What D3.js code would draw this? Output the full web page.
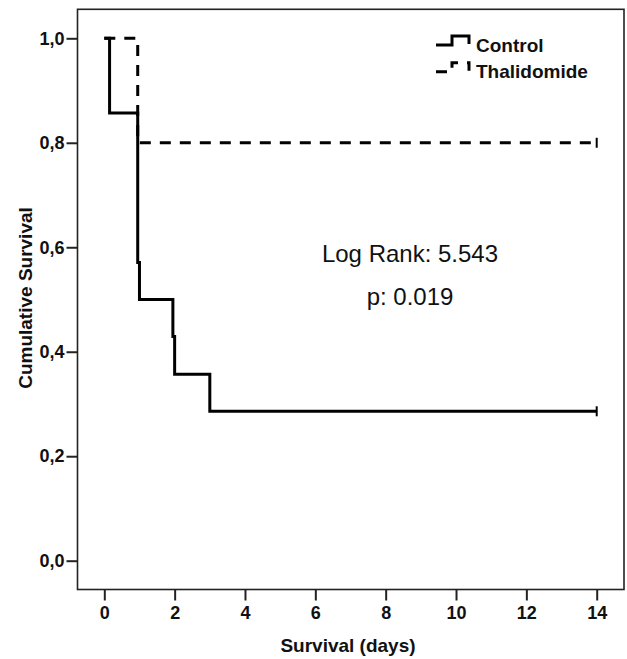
<!DOCTYPE html>
<html>
<head>
<meta charset="utf-8">
<script src="https://cdn.jsdelivr.net/npm/d3@7"></script>
<style>
  html, body { margin: 0; padding: 0; background: #fff; }
  svg { display: block; }
  text { font-family: "Liberation Sans", Arial, sans-serif; }
</style>
</head>
<body>
<svg id="chart" width="627" height="659"></svg>
<script>
// ---- data ----
const controlTimes = [0, 0.15, 0.95, 1.0, 1.95, 2.0, 3.0, 14];
const controlSurv  = [1, 0.857, 0.571, 0.5, 0.429, 0.357, 0.286, 0.286];
const thalTimes    = [0, 0.95, 14];
const thalSurv     = [1, 0.8, 0.8];
const censorTime   = 14;
const xTicks = [0, 2, 4, 6, 8, 10, 12, 14];
const yTicks = [0, 0.2, 0.4, 0.6, 0.8, 1.0];
const seriesNames = ["Control", "Thalidomide"];
const statLines = ["Log Rank: 5.543", "p: 0.019"];

const svg = d3.select("#chart");
const frame = { left: 77.5, top: 9.3, right: 624, bottom: 589.5 };
const x = d3.scaleLinear().domain([0, 14]).range([104.3, 596.7]);
const y = d3.scaleLinear().domain([0, 1]).range([560.7, 38.3]);

// frame
svg.append("rect")
  .attr("x", frame.left).attr("y", frame.top)
  .attr("width", frame.right - frame.left).attr("height", frame.bottom - frame.top)
  .attr("fill", "none").attr("stroke", "#222").attr("stroke-width", 1.6);

// y axis
const yAxis = d3.axisLeft(y).tickValues(yTicks).tickSize(11).tickPadding(2)
  .tickFormat(d => d3.format(".1f")(d).replace(".", ","));
const gy = svg.append("g").attr("transform", `translate(${frame.left},0)`).call(yAxis);
gy.select(".domain").remove();
gy.selectAll(".tick line").attr("stroke", "#222").attr("stroke-width", 2);
gy.selectAll(".tick text").attr("font-size", 18).attr("font-weight", "bold")
  .attr("fill", "#111").attr("font-family", "Liberation Sans, Arial, sans-serif");

// x axis
const xAxis = d3.axisBottom(x).tickValues(xTicks).tickSize(11).tickPadding(6)
  .tickFormat(d3.format("d"));
const gx = svg.append("g").attr("transform", `translate(0,${frame.bottom})`).call(xAxis);
gx.select(".domain").remove();
gx.selectAll(".tick line").attr("stroke", "#222").attr("stroke-width", 2);
gx.selectAll(".tick text").attr("font-size", 18).attr("font-weight", "bold")
  .attr("fill", "#111").attr("font-family", "Liberation Sans, Arial, sans-serif");

// axis titles
svg.append("text").attr("x", 348).attr("y", 652).attr("text-anchor", "middle")
  .attr("font-size", 19).attr("font-weight", "bold").attr("fill", "#111")
  .text("Survival (days)");
svg.append("text").attr("transform", "translate(32,298) rotate(-90)")
  .attr("text-anchor", "middle").attr("font-size", 19).attr("font-weight", "bold").attr("fill", "#111")
  .text("Cumulative Survival");

// curves
const line = d3.line().x(d => x(d[0])).y(d => y(d[1])).curve(d3.curveStepAfter);
const controlData = controlTimes.map((t, i) => [t, controlSurv[i]]);
const thalData = thalTimes.map((t, i) => [t, thalSurv[i]]);

svg.append("path").datum(thalData).attr("d", line)
  .attr("fill", "none").attr("stroke", "#000").attr("stroke-width", 3)
  .attr("stroke-dasharray", "11,9");
svg.append("path").datum(controlData).attr("d", line)
  .attr("fill", "none").attr("stroke", "#000").attr("stroke-width", 3)
  .attr("stroke-linejoin", "miter");

// censor marks
[controlSurv[controlSurv.length - 1], thalSurv[thalSurv.length - 1]].forEach(s => {
  svg.append("line")
    .attr("x1", x(censorTime)).attr("x2", x(censorTime))
    .attr("y1", y(s) - 5).attr("y2", y(s) + 5)
    .attr("stroke", "#000").attr("stroke-width", 2);
});

// legend
const legY = [45, 71.7];
seriesNames.forEach((name, i) => {
  const ly = legY[i];
  svg.append("path")
    .attr("d", `M436,${ly} H452 V${ly - 9} H469 V${ly - 1}`)
    .attr("fill", "none").attr("stroke", "#000").attr("stroke-width", 3)
    .attr("stroke-dasharray", i === 1 ? "11,9" : null);
  svg.append("text").attr("x", 476).attr("y", ly + 6.7)
    .attr("font-size", 19).attr("font-weight", "bold").attr("fill", "#111")
    .text(name);
});

// statistics
svg.append("text").attr("x", 410).attr("y", 262).attr("text-anchor", "middle")
  .attr("font-size", 24).attr("fill", "#111").text(statLines[0]);
svg.append("text").attr("x", 410).attr("y", 305).attr("text-anchor", "middle")
  .attr("font-size", 24).attr("fill", "#111").text(statLines[1]);
</script>
</body>
</html>
